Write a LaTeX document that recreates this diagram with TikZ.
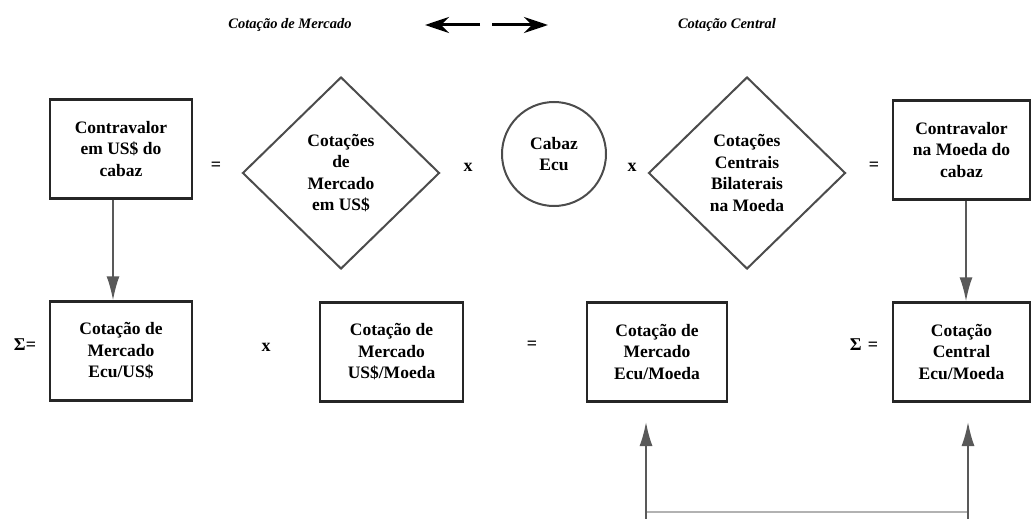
\documentclass[tikz,border=0pt]{standalone}
\usepackage{fontspec}
\setmainfont{Liberation Serif}
\usetikzlibrary{arrows.meta,shapes.geometric}
\begin{document}
\begin{tikzpicture}[x=1pt,y=-1pt,
  txt/.style={font=\bfseries\fontsize{17.5}{21.5}\selectfont,align=center},
  box/.style={txt,draw=black!85,line width=2.4pt,minimum width=142pt,minimum height=99pt,inner sep=0pt},
  dia/.style={txt,draw=black!70,line width=2pt,diamond,minimum width=197pt,minimum height=192pt,inner sep=0pt},
  circ/.style={txt,draw=black!70,line width=2pt,circle,minimum size=104pt,inner sep=0pt},
  op/.style={font=\bfseries\fontsize{18}{20}\selectfont,inner sep=1pt},
  ttl/.style={font=\bfseries\itshape\fontsize{14.5}{16}\selectfont,inner sep=0pt},
  conn/.style={draw=black!65,line width=1.8pt,-{Latex[length=24pt,width=13pt]}},
  tarrow/.style={draw=black,line width=3pt,-{Stealth[length=24pt,width=16pt]}}
]
\useasboundingbox[fill=white] (0,0) rectangle (1033,519);

% title
\node[ttl] (t1) at (290,25) {Cotação de Mercado};
\node[ttl] (t2) at (727,25) {Cotação Central};
\coordinate (la1) at (480,25);
\coordinate (la2) at (425,25);
\coordinate (ra1) at (492,25);
\coordinate (ra2) at (548,25);
\draw[tarrow] (la1) -- (la2);
\draw[tarrow] (ra1) -- (ra2);

% top row
\node[box] (A) at (121,149) {Contravalor\\em US\$ do\\cabaz};
\node[op] (eq1) at (216,166) {=};
\node[dia] (D1) at (341,173) {Cotações\\de\\Mercado\\em US\$};
\node[op] (x1) at (468,167) {x};
\node[circ] (C) at (554,154) {Cabaz\\Ecu};
\node[op] (x2) at (632,167) {x};
\node[dia] (D2) at (747,173) {Cotações\\Centrais\\Bilaterais\\na Moeda};
\node[op] (eq2) at (874,166) {=};
\node[box,minimum width=137pt] (B) at (961.5,150) {Contravalor\\na Moeda do\\cabaz};

% bottom row
\node[op] (s1) at (25,345) {Σ=};
\node[box] (E) at (121,351) {Cotação de\\Mercado\\Ecu/US\$};
\node[op] (x3) at (266,347) {x};
\node[box,minimum width=143pt] (F) at (391.5,352) {Cotação de\\Mercado\\US\$/Moeda};
\node[op] (eq3) at (532,345) {=};
\node[box,minimum width=140pt] (G) at (657,352) {Cotação de\\Mercado\\Ecu/Moeda};
\node[op] (s2) at (864,345) {Σ\,\,=};
\node[box,minimum width=137pt] (H) at (961.5,352) {Cotação\\Central\\Ecu/Moeda};

% connectors
\draw[conn] ([xshift=-8pt]A.south) -- ([xshift=-8pt]E.north);
\draw[conn] ([xshift=4.5pt]B.south) -- ([xshift=4.5pt]H.north);

\coordinate (b1) at (646,519);
\coordinate (h1) at (646,512);
\coordinate (tip1) at (646,422);
\coordinate (b2) at (968,519);
\coordinate (h2) at (968,512);
\coordinate (tip2) at (968,422);
\draw[draw=black!30,line width=1.2pt] (h1) -- (h2);
\draw[conn] (b1) -- (tip1);
\draw[conn] (b2) -- (tip2);
\end{tikzpicture}
\end{document}
